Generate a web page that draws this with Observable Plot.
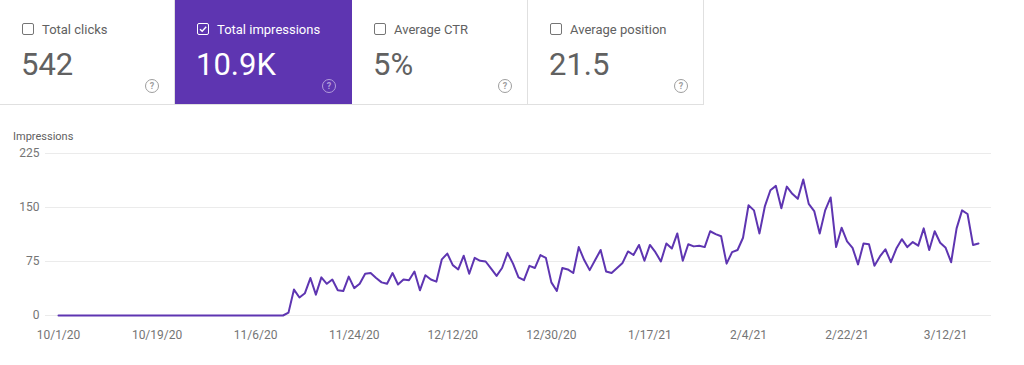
<!DOCTYPE html>
<html>
<head>
<meta charset="utf-8">
<script src="https://cdn.jsdelivr.net/npm/d3@7"></script>
<script src="https://cdn.jsdelivr.net/npm/@observablehq/plot@0.6"></script>
<style>
  html, body { margin: 0; padding: 0; background: #fff; width: 1024px; height: 365px; overflow: hidden; font-family: Roboto, "Noto Sans", sans-serif; }
  #cards { position: absolute; left: 0; top: 0; height: 104px; display: flex; border-bottom: 1px solid #e0e0e0; }
  .card { position: relative; box-sizing: border-box; height: 104px; border-right: 1px solid #e0e0e0; color: #616161; background: #fff; }
  .card.on { background: #5e35b1; color: #fff; border-right: 1px solid #5e35b1; }
  .cb { position: absolute; left: 22px; top: 23px; width: 10px; height: 10px; border: 1.5px solid #757575; border-radius: 2px; }
  .card.on .cb { border-color: #fff; }
  .lab { position: absolute; left: 42px; top: 22px; font-size: 13px; line-height: 16px; color: #616161; white-space: nowrap; }
  .card.on .lab { color: #fff; }
  .num { position: absolute; left: 21px; top: 47px; font-size: 31px; line-height: 36px; color: #616161; }
  .card.on .num { color: #fff; }
  .help { position: absolute; right: 15px; top: 79px; width: 12px; height: 12px; border: 1.3px solid #9e9e9e; border-radius: 50%; font-size: 9px; line-height: 12px; text-align: center; color: #9e9e9e; font-weight: bold; }
  .card.on .help { border-color: #b39ddb; color: #b39ddb; }
  #ylab { position: absolute; left: 13px; top: 130px; font-size: 11px; color: #616161; }
  #chart { position: absolute; left: 0; top: 120px; }
</style>
</head>
<body>
<div id="cards"></div>
<div id="ylab">Impressions</div>
<div id="chart"></div>
<script>
const cardLabels = ["Total clicks", "Total impressions", "Average CTR", "Average position"];
const cardValues = ["542", "10.9K", "5%", "21.5"];
const cardSelected = [false, true, false, false];
const cardWidths = [175, 177, 176, 176];

const startDate = "2020-10-01";
const impressions = [
  0,0,0,0,0,0,0,0,0,0, 0,0,0,0,0,0,0,0,0,0,
  0,0,0,0,0,0,0,0,0,0, 0,0,0,0,0,0,0,0,0,0,
  0,0,4,36,25,31,52,29,53,44,
  50,35,34,54,38,44,58,59,52,46,
  44,59,43,50,49,61,35,56,50,47,
  78,86,70,64,83,58,80,76,75,65,
  55,66,87,72,53,49,69,66,84,80,
  46,34,66,64,59,95,77,63,77,91,
  61,59,66,73,89,84,98,76,98,88,
  75,100,93,114,76,99,96,97,95,117,
  113,110,72,88,91,108,153,146,114,152,
  174,180,149,179,169,162,189,155,145,114,
  146,164,95,122,103,94,71,100,99,69,
  82,92,74,93,106,95,102,97,121,91,
  117,101,94,74,121,146,141,98,100
];
const yTicks = [0, 75, 150, 225];
const xTickLabels = ["2020-10-01","2020-10-19","2020-11-06","2020-11-24","2020-12-12","2020-12-30","2021-01-17","2021-02-04","2021-02-22","2021-03-12"];

// cards
const cards = document.getElementById("cards");
cardLabels.forEach((lab, i) => {
  const c = document.createElement("div");
  c.className = "card" + (cardSelected[i] ? " on" : "");
  c.style.width = cardWidths[i] + "px";
  const cb = document.createElement("div");
  cb.className = "cb";
  if (cardSelected[i]) {
    cb.innerHTML = '<svg width="10" height="10" viewBox="0 0 10 10" style="position:absolute;left:0;top:0"><path d="M2 5.2 L4.2 7.3 L8.2 2.8" fill="none" stroke="#fff" stroke-width="1.4"/></svg>';
  }
  const l = document.createElement("div"); l.className = "lab"; l.textContent = lab;
  const n = document.createElement("div"); n.className = "num"; n.textContent = cardValues[i];
  const h = document.createElement("div"); h.className = "help"; h.textContent = "?";
  c.append(cb, l, n, h);
  cards.append(c);
});

// chart
const start = new Date(startDate + "T00:00:00Z");
const data = impressions.map((v, i) => ({date: d3.utcDay.offset(start, i), value: v}));
const xTicks = xTickLabels.map(s => new Date(s + "T00:00:00Z"));

const plot = Plot.plot({
  width: 1024,
  height: 245,
  marginLeft: 58,
  marginRight: 46,
  marginTop: 33,
  marginBottom: 50,
  style: {fontFamily: "Roboto, sans-serif", fontSize: "12px", background: "transparent"},
  x: {type: "utc", domain: [start, data[data.length - 1].date]},
  y: {domain: [0, 225]},
  marks: [
    Plot.ruleY(yTicks, {stroke: "#ebebeb", strokeWidth: 1, insetLeft: -13, insetRight: -13}),
    Plot.axisY({ticks: yTicks, tickSize: 0, tickPadding: 19, label: null, fill: "#757575", fontSize: 12}),
    Plot.axisX({ticks: xTicks, tickSize: 0, tickPadding: 15, label: null, fill: "#757575", fontSize: 12,
      tickFormat: d3.utcFormat("%-m/%-d/%y")}),
    Plot.lineY(data, {x: "date", y: "value", stroke: "#5e35b1", strokeWidth: 2, strokeLinejoin: "round"})
  ]
});
document.getElementById("chart").append(plot);
</script>
</body>
</html>
